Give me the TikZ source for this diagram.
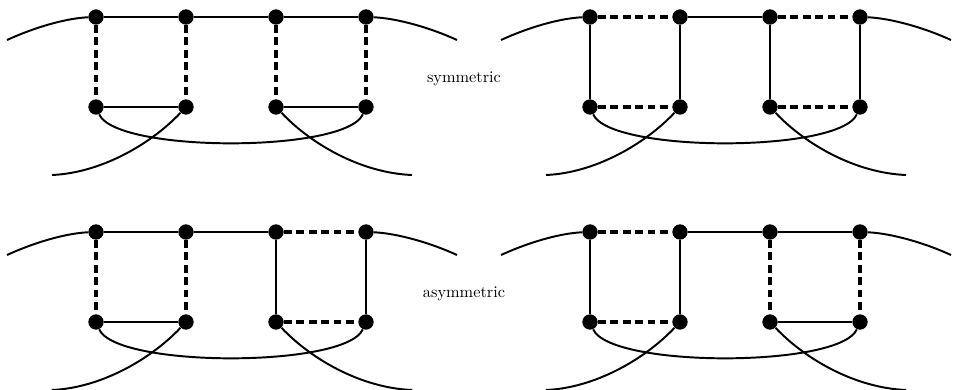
\documentclass[tikz,border=0pt]{standalone}
\begin{document}
\begin{tikzpicture}[x=0.6133pt,y=-0.6133pt,
  dot/.style={circle,fill=black,inner sep=0pt,minimum size=9.4pt},
  sline/.style={line width=1.2pt},
  dline/.style={line width=2.5pt,dash pattern=on 4.8pt off 2.8pt},
  curve/.style={line width=1.2pt}]
\useasboundingbox (0,0) rectangle (956,390);
\newcommand{\ladder}[5]{%
  \node[dot] (#1a1) at (96,17) {};
  \node[dot] (#1a2) at (186,17) {};
  \node[dot] (#1a3) at (276,17) {};
  \node[dot] (#1a4) at (366,17) {};
  \node[dot] (#1b1) at (96,107) {};
  \node[dot] (#1b2) at (186,107) {};
  \node[dot] (#1b3) at (276,107) {};
  \node[dot] (#1b4) at (366,107) {};
  \coordinate (#1l) at (7,40);
  \coordinate (#1r) at (457,40);
  \coordinate (#1bl) at (52,175);
  \coordinate (#1br) at (412,175);
  \draw[sline] (#1a2) -- (#1a3);
  \draw[#2] (#1a1) -- (#1a2);
  \draw[#2] (#1b1) -- (#1b2);
  \draw[#3] (#1a1) -- (#1b1);
  \draw[#3] (#1a2) -- (#1b2);
  \draw[#4] (#1a3) -- (#1a4);
  \draw[#4] (#1b3) -- (#1b4);
  \draw[#5] (#1a3) -- (#1b3);
  \draw[#5] (#1a4) -- (#1b4);
  \draw[curve] (#1l) .. controls (40,25) and (70,18) .. (#1a1);
  \draw[curve] (#1a4) .. controls (392,18) and (424,25) .. (#1r);
  \draw[curve] (#1b1) .. controls (116,153) and (346,153) .. (#1b4);
  \draw[curve] (#1b2) .. controls (150,145) and (100,173) .. (#1bl);
  \draw[curve] (#1b3) .. controls (312,145) and (362,173) .. (#1br);
}
\begin{scope}
\ladder{tl}{sline}{dline}{sline}{dline}
\end{scope}
\begin{scope}[shift={(494,0)}]
\ladder{tr}{dline}{sline}{dline}{sline}
\end{scope}
\begin{scope}[shift={(0,215)}]
\ladder{bl}{sline}{dline}{dline}{sline}
\end{scope}
\begin{scope}[shift={(494,215)}]
\ladder{br}{dline}{sline}{sline}{dline}
\end{scope}
\node (sym) at (464,79) {symmetric};
\node (asym) at (464,294) {asymmetric};
\end{tikzpicture}
\end{document}
